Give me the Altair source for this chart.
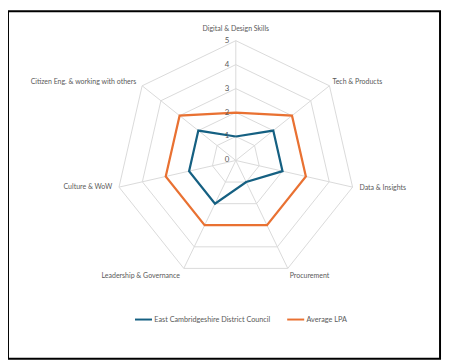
import altair as alt
import pandas as pd

categories = ["Digital & Design Skills", "Tech & Products", "Data & Insights", "Procurement",
              "Leadership & Governance", "Culture & WoW", "Citizen Eng. & working with others"]
council = [1, 2, 2, 1, 2, 2, 2]
average = [2, 3, 3, 3, 3, 3, 3]
series_names = ["East Cambridgeshire District Council", "Average LPA"]
series_colors = ["#156082", "#E97132"]
levels = [1, 2, 3, 4, 5]
tick_labels = ["0", "1", "2", "3", "4", "5"]

N = len(categories)
RMAX = max(levels)

rows = []
for name, vals in zip(series_names, [council, average]):
    for k in range(N + 1):
        rows.append({"series": name, "k": k, "r": vals[k % N]})
series_df = pd.DataFrame(rows)
ring_df = pd.DataFrame([{"level": l, "k": k, "r": l} for l in levels for k in range(N + 1)])
spoke_df = pd.DataFrame({"k": list(range(N)), "r": [RMAX] * N})
tick_df = pd.DataFrame({"r": [int(t) for t in tick_labels], "label": tick_labels, "k": [0] * len(tick_labels)})
cat_df = pd.DataFrame({"k": list(range(N)), "cat": categories, "r": [RMAX] * N})

W, H = 440, 354
CX, CY = 232, 152
U = 24.4
xdom = [-CX / U, (W - CX) / U]
ydom = [-(H - CY) / U, CY / U]

X = lambda f="x": alt.X(f + ":Q", scale=alt.Scale(domain=xdom, nice=False, zero=False), axis=None)
Y = lambda f="y": alt.Y(f + ":Q", scale=alt.Scale(domain=ydom, nice=False, zero=False), axis=None)


def polar(ch):
    return ch.transform_calculate(
        ang=f"datum.k*2*PI/{N}"
    ).transform_calculate(
        x="datum.r*sin(datum.ang)", y="datum.r*cos(datum.ang)",
        x0="0", y0="0"
    )


GRID = "#d9d9d9"
TXT = "#595959"
FONT = "Lato"

rings = polar(alt.Chart(ring_df)).mark_line(color=GRID, strokeWidth=1).encode(
    x=X(), y=Y(), detail="level:N", order="k:Q")

spokes = polar(alt.Chart(spoke_df)).mark_rule(color=GRID, strokeWidth=1).encode(
    x=X("x0"), y=Y("y0"), x2="x:Q", y2="y:Q")

lines = polar(alt.Chart(series_df)).mark_line(strokeWidth=2.25).encode(
    x=X(), y=Y(), order="k:Q",
    color=alt.Color("series:N", scale=alt.Scale(domain=series_names, range=series_colors),
                    legend=alt.Legend(title=None, orient="none", legendX=128, legendY=304,
                                      direction="horizontal", symbolType="stroke",
                                      symbolStrokeWidth=2, symbolSize=300, labelFont=FONT,
                                      labelFontSize=7.4, labelColor=TXT, labelOffset=1,
                                      columnPadding=12)))

ticks = polar(alt.Chart(tick_df)).mark_text(font=FONT, fontSize=8, color=TXT, align="center",
                                            baseline="middle", dx=-9).encode(
    x=X(), y=Y(), text="label:N")

styles = [("center", 0, -12), ("left", 3, -4), ("left", 7, 1), ("left", 2, 8),
          ("right", -4, 8), ("right", -7, 0), ("right", -6, -4)]
cat_layers = []
for k, (al, dx, dy) in enumerate(styles):
    cat_layers.append(
        polar(alt.Chart(cat_df)).transform_filter(f"datum.k=={k}").mark_text(
            font=FONT, fontSize=7.1, color=TXT, align=al, baseline="middle", dx=dx, dy=dy
        ).encode(x=X(), y=Y(), text="cat:N"))

chart = alt.layer(rings, spokes, lines, ticks, *cat_layers).properties(
    width=W, height=H,
    autosize=alt.AutoSizeParams(type="none"),
    padding={"left": 0, "top": 0, "right": 2, "bottom": 2},
    background="white",
).configure_view(stroke="black", strokeWidth=2)

chart.save("out.html", embed_options={"renderer": "svg", "actions": False})
